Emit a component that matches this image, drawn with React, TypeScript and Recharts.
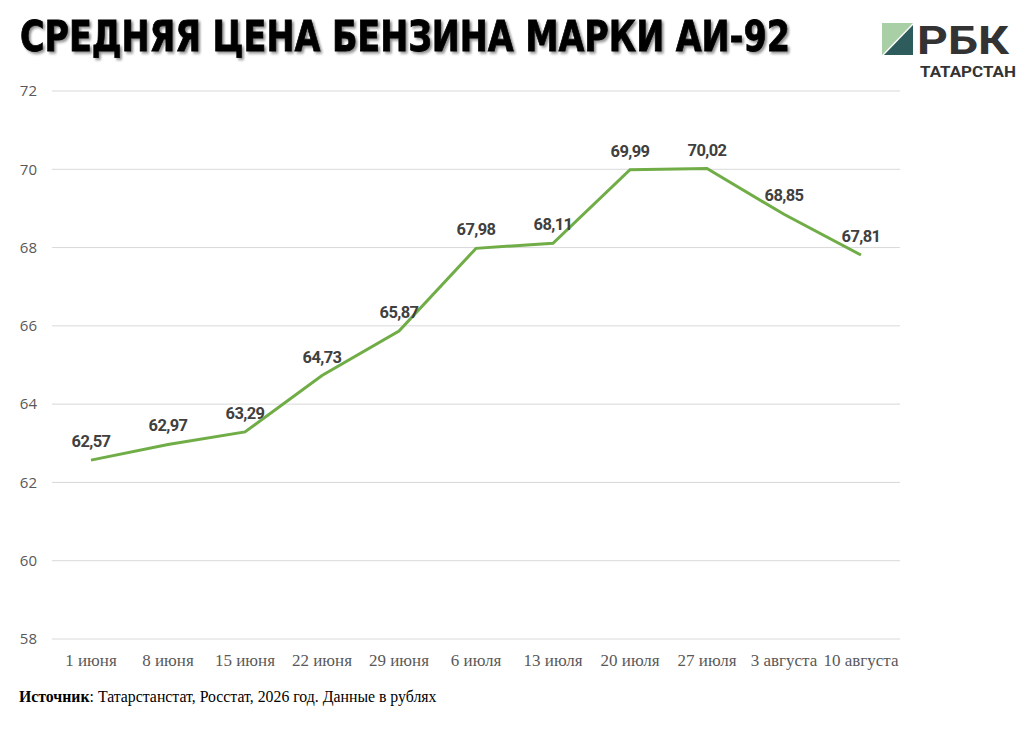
import React, { useLayoutEffect, useRef, useState } from "react";
import { LineChart, Line, XAxis, YAxis, CartesianGrid, LabelList } from "recharts";

const categories = ["1 июня", "8 июня", "15 июня", "22 июня", "29 июня", "6 июля", "13 июля", "20 июля", "27 июля", "3 августа", "10 августа"];
const prices = [62.57, 62.97, 63.29, 64.73, 65.87, 67.98, 68.11, 69.99, 70.02, 68.85, 67.81];
const yTicks = [58, 60, 62, 64, 66, 68, 70, 72];

const data = categories.map((c, i) => ({ date: c, price: prices[i] }));

const fmt = (v: number) => v.toFixed(2).replace(".", ",");

const TITLE_W = 770;

export default function App() {
  const titleRef = useRef<SVGTextElement>(null);
  const [sx, setSx] = useState(0.75);
  useLayoutEffect(() => {
    if (titleRef.current) {
      const w = titleRef.current.getBBox().width;
      if (w > 0) setSx(TITLE_W / w);
    }
  }, []);
  return (
    <div style={{ position: "absolute", left: 0, top: 0, width: 1033, height: 731, background: "#fff" }}>
      <svg width={1033} height={731} style={{ position: "absolute", left: 0, top: 0 }}>
        <defs>
          <filter id="sh" x="-5%" y="-30%" width="110%" height="160%">
            <feGaussianBlur in="SourceAlpha" stdDeviation="1.5" />
            <feOffset dx="2" dy="2" result="b" />
            <feComponentTransfer><feFuncA type="linear" slope="0.45" /></feComponentTransfer>
            <feMerge><feMergeNode /><feMergeNode in="SourceGraphic" /></feMerge>
          </filter>
        </defs>
        <g transform={`translate(20,51) scale(${sx},1)`} filter="url(#sh)">
          <text ref={titleRef} x={0} y={0} fontFamily="DejaVu Sans" fontWeight={900} fontSize={42} fill="#000" stroke="#000" strokeWidth={0.8}>
            СРЕДНЯЯ ЦЕНА БЕНЗИНА МАРКИ АИ-92
          </text>
        </g>
        {/* logo */}
        <polygon points="882,23 913,23 882,55" fill="#a9cfa6" />
        <polygon points="913,25 913,55 884,55" fill="#2e5b5c" />
        <text x={917} y={54} fontFamily="Roboto" fontWeight={700} fontSize={38} fill="#333" textLength={92} lengthAdjust="spacingAndGlyphs">РБК</text>
        <text x={920} y={77} fontFamily="Roboto" fontWeight={700} fontSize={14} fill="#333" textLength={96} lengthAdjust="spacingAndGlyphs">ТАТАРСТАН</text>
        <text x={19} y={702} fontFamily="Liberation Serif" fontSize={15.8} fill="#000">
          <tspan fontWeight={700}>Источник</tspan>: Татарстанстат, Росстат, 2026 год. Данные в рублях
        </text>
      </svg>
      <div style={{ position: "absolute", left: 0, top: 0 }}>
        <LineChart width={1033} height={731} data={data} margin={{ top: 91, right: 133, left: 2, bottom: 62 }}>
          <CartesianGrid vertical={false} stroke="#d9d9d9" />
          <XAxis
            dataKey="date"
            axisLine={false}
            tickLine={false}
            tickSize={0}
            tickMargin={15}
            interval={0}
            height={30}
            padding={{ left: 39, right: 39 }}
            tick={{ fontFamily: "Liberation Serif", fontSize: 17, fill: "#595959" }}
          />
          <YAxis
            width={50}
            domain={[58, 72]}
            ticks={yTicks}
            axisLine={false}
            tickLine={false}
            tickSize={0}
            tickMargin={15}
            tick={{ fontFamily: "Open Sans", fontSize: 15, fill: "#595959" }}
          />
          <Line type="linear" dataKey="price" stroke="#70ad47" strokeWidth={3} dot={false} isAnimationActive={false}>
            <LabelList dataKey="price" position="top" offset={13} formatter={(v: number) => fmt(v)}
              style={{ fontFamily: "Roboto", fontWeight: 700, fontSize: 16.5, fill: "#404040", letterSpacing: -0.6 }} />
          </Line>
        </LineChart>
      </div>
    </div>
  );
}
